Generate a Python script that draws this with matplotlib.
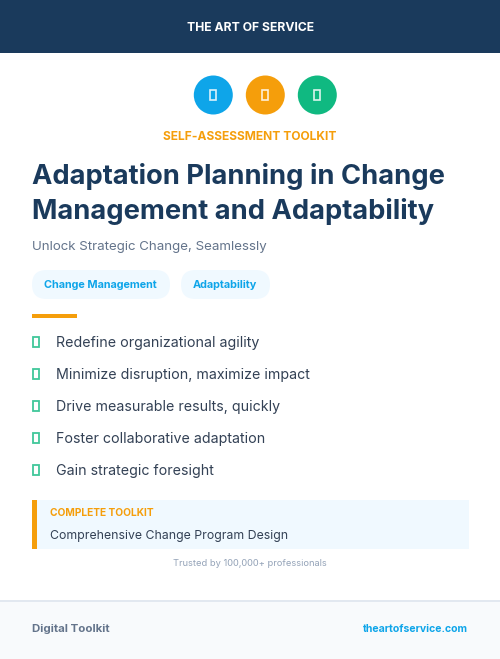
#!/usr/bin/python
import matplotlib
matplotlib.use('Agg')
import matplotlib.pyplot as plt
from matplotlib.patches import Rectangle, Circle, FancyBboxPatch

plt.rcParams['font.family'] = ['Inter', 'DejaVu Sans']

NAVY = '#1a3a5c'
BLUE = '#0ea5e9'
ORANGE = '#f59e0b'
GREEN = '#10b981'
SLATE = '#334155'
PALE = '#f0f9ff'

brand = 'THE ART OF SERVICE'
kicker = 'SELF-ASSESSMENT TOOLKIT'
title_lines = ['Adaptation Planning in Change', 'Management and Adaptability']
subtitle = 'Unlock Strategic Change, Seamlessly'
tags = ['Change Management', 'Adaptability']
bullets = ['Redefine organizational agility',
           'Minimize disruption, maximize impact',
           'Drive measurable results, quickly',
           'Foster collaborative adaptation',
           'Gain strategic foresight']
box_label = 'COMPLETE TOOLKIT'
box_text = 'Comprehensive Change Program Design'
trusted = 'Trusted by 100,000+ professionals'
footer_left = 'Digital Toolkit'
footer_right = 'theartofservice.com'
circle_colors = [BLUE, ORANGE, GREEN]


def px_text(ax, x, y, txt, size, color, weight='normal', ha='left'):
    """ text placed in pixels, size given in css px """
    ax.text(x, y, txt, fontsize=size * 0.72, color=color, fontweight=weight,
            ha=ha, va='center_baseline')


def box(ax, x, y, w, h, color, **kw):
    ax.add_patch(Rectangle((x, y), w, h, facecolor=color, edgecolor='none', **kw))


def tofu(ax, xc, yc, w, h, color, lw=1.3, alpha=1.0):
    """ the empty box the icon font falls back to """
    ax.add_patch(Rectangle((xc - w / 2, yc - h / 2), w, h, facecolor='none',
                           edgecolor=color, linewidth=lw, alpha=alpha))


fig = plt.figure(figsize=(5, 6.59), dpi=100, facecolor='white')
ax = fig.add_axes([0, 0, 1, 1])
ax.set_xlim(0, 500)
ax.set_ylim(659, 0)
ax.axis('off')

# header
box(ax, 0, 0, 500, 53, NAVY)
px_text(ax, 250.5, 26.5, brand, 12.2, 'white', 'bold', 'center')

# icon circles
for xc, col in zip([213.3, 265.3, 317.3], circle_colors):
    ax.add_patch(Circle((xc, 95), 19.5, facecolor=col, edgecolor='none'))
    tofu(ax, xc, 95, 6, 10, 'white', 1.2, 0.85)

px_text(ax, 249.5, 135.5, kicker, 12, ORANGE, 'bold', 'center')

# title block
px_text(ax, 32, 173, title_lines[0], 27.3, NAVY, 'bold')
px_text(ax, 32, 208.5, title_lines[1], 27.3, NAVY, 'bold')
px_text(ax, 32, 245.5, subtitle, 13.3, '#64748b')

# tags
for tag, x0, w in zip(tags, [32, 181], [138, 89]):
    ax.add_patch(FancyBboxPatch((x0, 270), w, 29,
                                boxstyle='round,pad=0,rounding_size=14.5',
                                facecolor=PALE, edgecolor='none'))
    px_text(ax, x0 + w / 2 - 0.5, 283.5, tag, 10.9, BLUE, 'bold', 'center')

box(ax, 32, 314, 45, 4, ORANGE)

# bullet list
for i, item in enumerate(bullets):
    yc = 342 + i * 32
    tofu(ax, 36, yc, 6, 10, GREEN, 1.3, 0.8)
    px_text(ax, 56, yc, item, 14.2, SLATE)

# callout
box(ax, 32, 500, 437, 49, PALE)
box(ax, 32, 500, 5, 49, ORANGE)
px_text(ax, 50, 512.5, box_label, 10.2, ORANGE, 'bold')
px_text(ax, 50, 534.5, box_text, 12.3, SLATE)

px_text(ax, 250, 562.5, trusted, 9.3, '#94a3b8', 'normal', 'center')

# footer
box(ax, 0, 600, 500, 59, '#f8fafc')
box(ax, 0, 599.5, 500, 2, '#e2e8f0')
px_text(ax, 32, 628.5, footer_left, 11.5, '#64748b', 'bold')
px_text(ax, 468, 628, footer_right, 10.5, BLUE, 'bold', 'right')

fig.savefig('out.png', dpi=100)
